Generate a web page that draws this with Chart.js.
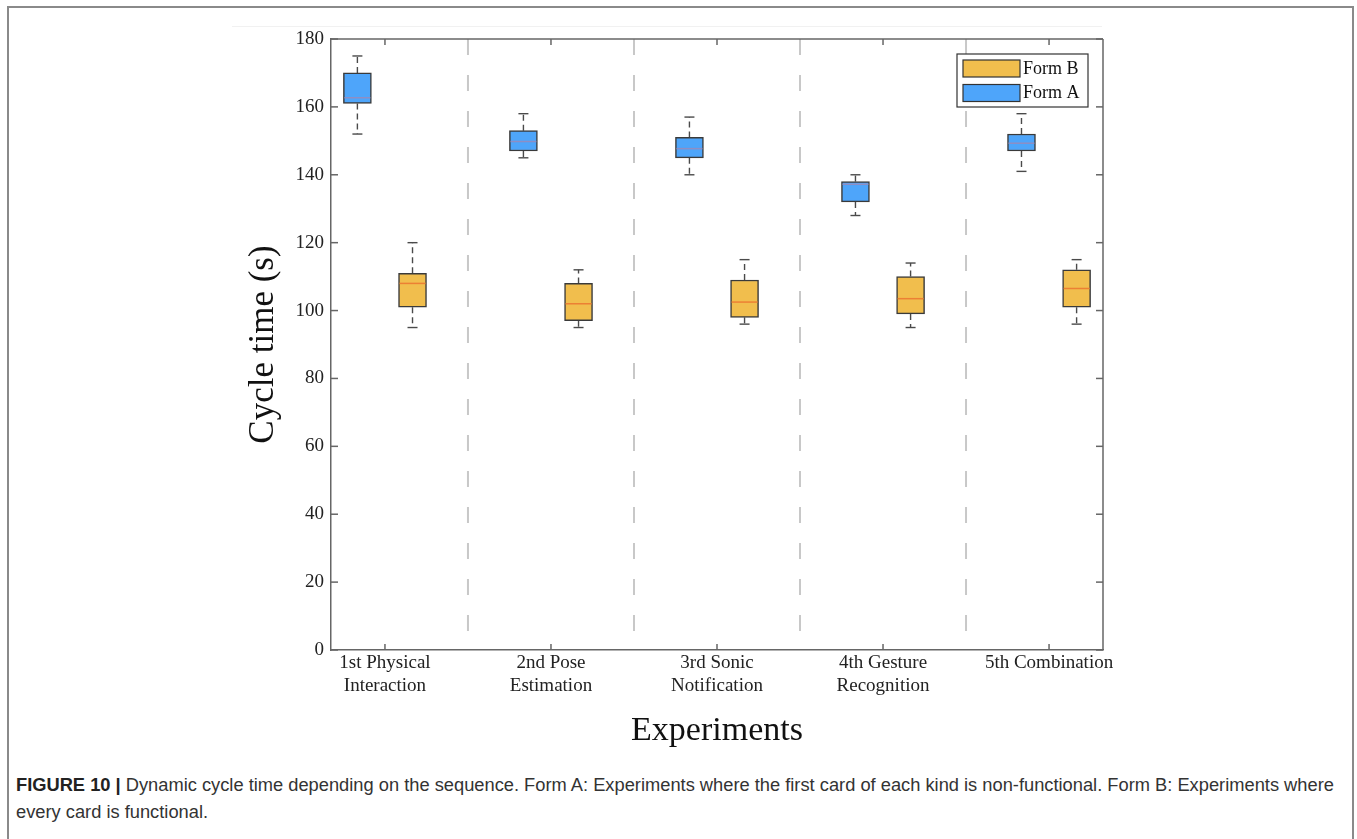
<!DOCTYPE html>
<html>
<head>
<meta charset="utf-8">
<title>Dynamic cycle time</title>
<script src="https://cdn.jsdelivr.net/npm/chart.js@4.4.1/dist/chart.umd.min.js"></script>
<style>
  body { margin: 0; background: #fff; }
  #frame { position: absolute; left: 7px; top: 6px; width: 1343px; height: 860px; border: 2px solid #8a8a8a; border-bottom: none; }
  #topline { position: absolute; left: 232px; top: 26px; width: 870px; height: 1px; background: #f1f1f1; }
  #chart { position: absolute; left: 0; top: 0; }
  #caption { position: absolute; left: 16px; top: 771px; font-family: "Liberation Sans", Arial, sans-serif; font-size: 18.3px; line-height: 27px; color: #333; white-space: nowrap; }
  #caption b { color: #222; }
</style>
</head>
<body>
<div id="frame"></div>
<div id="topline"></div>
<canvas id="chart" width="1357" height="760"></canvas>
<div id="caption"><b>FIGURE 10 |</b> Dynamic cycle time depending on the sequence. Form A: Experiments where the first card of each kind is non-functional. Form B: Experiments where<br>every card is functional.</div>
<script>
  // Categories and box plot values
  const categories = [
    ['1st Physical', 'Interaction'],
    ['2nd Pose', 'Estimation'],
    ['3rd Sonic', 'Notification'],
    ['4th Gesture', 'Recognition'],
    ['5th Combination']
  ];

  const formAMin    = [152, 145, 140, 128, 141];
  const formAQ1     = [161, 147, 145, 132, 147];
  const formAMedian = [162.7, 149.8, 147.7, 137.2, 149.3];
  const formAQ3     = [170, 153, 151, 138, 152];
  const formAMax    = [175, 158, 157, 140, 158];

  const formBMin    = [95, 95, 96, 95, 96];
  const formBQ1     = [101, 97, 98, 99, 101];
  const formBMedian = [108, 102, 102.5, 103.5, 106.5];
  const formBQ3     = [111, 108, 109, 110, 112];
  const formBMax    = [120, 112, 115, 114, 115];

  const yMin = 0;
  const yMax = 180;
  const yStep = 20;

  const SERIF = '"Liberation Serif", "Times New Roman", serif';
  const AXIS = '#666';
  const BOX_SHIFT = 0.166;

  // floating bar from q1 to q3, shifted left/right of the category
  function boxData(q1, q3, shift) {
    return categories.map((c, i) => ({ x: i + 1 + shift, y: [q1[i], q3[i]] }));
  }

  function line(ctx, x1, y1, x2, y2) {
    ctx.beginPath();
    ctx.moveTo(x1, y1);
    ctx.lineTo(x2, y2);
    ctx.stroke();
  }

  // whiskers, medians, separators, frame and legend
  const boxPlotExtras = {
    id: 'boxPlotExtras',
    beforeDatasetsDraw(chart) {
      const { ctx, chartArea, scales: { x, y } } = chart;
      ctx.save();
      ctx.strokeStyle = '#c8c8c8';
      ctx.lineWidth = 2;
      ctx.setLineDash([16, 20]);
      for (let k = 1; k < categories.length; k++) {
        const px = x.getPixelForValue(k + 0.5);
        line(ctx, px, chartArea.top, px, chartArea.bottom);
      }
      ctx.restore();

      ctx.save();
      ctx.strokeStyle = '#4a4a4a';
      ctx.lineWidth = 1.4;
      chart.data.datasets.forEach((ds, di) => {
        const meta = chart.getDatasetMeta(di);
        meta.data.forEach((bar, i) => {
          const hi = y.getPixelForValue(ds.whiskerHigh[i]);
          const lo = y.getPixelForValue(ds.whiskerLow[i]);
          const top = y.getPixelForValue(ds.data[i].y[1]);
          const bottom = y.getPixelForValue(ds.data[i].y[0]);
          ctx.setLineDash([6, 4]);
          line(ctx, bar.x, top, bar.x, hi);
          line(ctx, bar.x, bottom, bar.x, lo);
          ctx.setLineDash([]);
          line(ctx, bar.x - 5, hi, bar.x + 5, hi);
          line(ctx, bar.x - 5, lo, bar.x + 5, lo);
        });
      });
      ctx.restore();
    },
    afterDatasetsDraw(chart) {
      const { ctx, scales: { y } } = chart;
      ctx.save();
      ctx.lineWidth = 1.5;
      chart.data.datasets.forEach((ds, di) => {
        const meta = chart.getDatasetMeta(di);
        ctx.strokeStyle = ds.medianColor;
        meta.data.forEach((bar, i) => {
          const py = y.getPixelForValue(ds.medians[i]);
          line(ctx, bar.x - bar.width / 2 + 1, py, bar.x + bar.width / 2 - 1, py);
        });
      });
      ctx.restore();
    },
    afterDraw(chart) {
      const { ctx, chartArea: a, scales: { x, y } } = chart;
      ctx.save();
      ctx.strokeStyle = AXIS;
      ctx.lineWidth = 1.5;
      line(ctx, a.left, a.top, a.right, a.top);
      line(ctx, a.right, a.top, a.right, a.bottom);
      y.ticks.forEach(t => {
        const py = y.getPixelForValue(t.value);
        line(ctx, a.left, py, a.left + 7, py);
        line(ctx, a.right, py, a.right - 7, py);
      });
      x.ticks.forEach(t => {
        const px = x.getPixelForValue(t.value);
        line(ctx, px, a.bottom, px, a.bottom - 6);
        line(ctx, px, a.top, px, a.top + 6);
      });

      // legend, top right inside the plot, Form B listed first
      const lx = a.right - 146, ly = a.top + 15, lw = 131, lh = 53;
      ctx.fillStyle = '#fff';
      ctx.fillRect(lx, ly, lw, lh);
      ctx.strokeStyle = '#333';
      ctx.lineWidth = 1.2;
      ctx.strokeRect(lx, ly, lw, lh);
      ctx.font = '18px ' + SERIF;
      ctx.textBaseline = 'middle';
      ctx.textAlign = 'left';
      chart.data.datasets.slice().reverse().forEach((ds, k) => {
        const sy = ly + 6 + k * 24.5;
        ctx.fillStyle = ds.backgroundColor;
        ctx.fillRect(lx + 6, sy, 57, 17);
        ctx.strokeStyle = '#333';
        ctx.strokeRect(lx + 6, sy, 57, 17);
        ctx.fillStyle = '#111';
        ctx.fillText(ds.label, lx + 66, sy + 9);
      });
      ctx.restore();
    }
  };

  const ctx = document.getElementById('chart');
  const chart = new Chart(ctx, {
    type: 'bar',
    data: {
      datasets: [
        {
          label: 'Form A',
          data: boxData(formAQ1, formAQ3, -BOX_SHIFT),
          whiskerLow: formAMin,
          whiskerHigh: formAMax,
          medians: formAMedian,
          medianColor: 'rgba(150,140,190,0.9)',
          backgroundColor: 'rgb(78,165,250)',
          borderColor: '#3a3a3a',
          borderWidth: 1.5,
          borderSkipped: false,
          barThickness: 28,
          grouped: false
        },
        {
          label: 'Form B',
          data: boxData(formBQ1, formBQ3, BOX_SHIFT),
          whiskerLow: formBMin,
          whiskerHigh: formBMax,
          medians: formBMedian,
          medianColor: 'rgb(236,128,52)',
          backgroundColor: 'rgb(241,190,77)',
          borderColor: '#3a3a3a',
          borderWidth: 1.5,
          borderSkipped: false,
          barThickness: 28,
          grouped: false
        }
      ]
    },
    options: {
      responsive: false,
      animation: false,
      layout: { padding: { left: 231, right: 254, top: 39, bottom: 8 } },
      plugins: {
        legend: { display: false },
        tooltip: { enabled: false }
      },
      scales: {
        x: {
          type: 'linear',
          offset: false,
          min: 0.675,
          max: 5.325,
          afterBuildTicks: s => { s.ticks = categories.map((c, i) => ({ value: i + 1 })); },
          afterFit: s => { s.height = 102; s.paddingLeft = 0; s.paddingRight = 0; },
          grid: { display: false, drawTicks: false, offset: false },
          border: { display: true, color: AXIS, width: 1.5 },
          ticks: {
            autoSkip: false,
            maxRotation: 0,
            padding: 2,
            color: '#222',
            font: { family: SERIF, size: 19, lineHeight: 1.2 },
            callback: v => categories[Math.round(v) - 1]
          },
          title: {
            display: true,
            text: 'Experiments',
            color: '#111',
            font: { family: SERIF, size: 34 },
            padding: { top: 0, bottom: 1 }
          }
        },
        y: {
          min: yMin,
          max: yMax,
          afterFit: s => { s.width = 100; s.paddingTop = 0; s.paddingBottom = 0; },
          grid: { display: false, drawTicks: false },
          border: { display: true, color: AXIS, width: 1.5 },
          ticks: {
            stepSize: yStep,
            padding: 7,
            color: '#222',
            font: { family: SERIF, size: 19 }
          },
          title: {
            display: true,
            text: 'Cycle time (s)',
            color: '#111',
            font: { family: SERIF, size: 35 },
            padding: { top: 12, bottom: 0 }
          }
        }
      }
    },
    plugins: [boxPlotExtras]
  });
</script>
</body>
</html>
